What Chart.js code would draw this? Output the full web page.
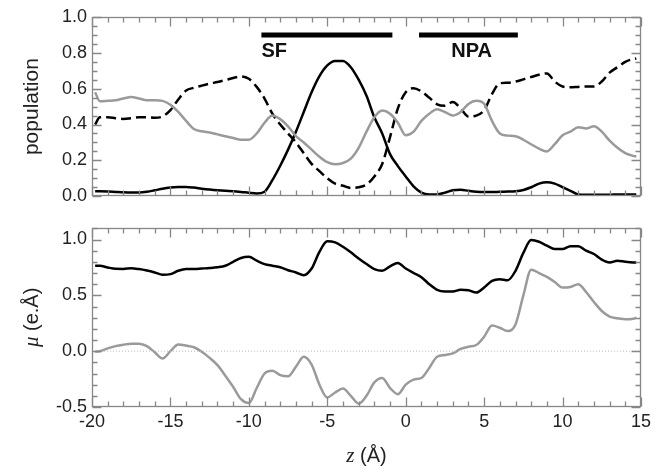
<!DOCTYPE html>
<html>
<head>
<meta charset="utf-8">
<script src="https://cdn.jsdelivr.net/npm/chart.js@4.4.1/dist/chart.umd.min.js"></script>
<style>
  body { margin: 0; background: #fff; }
  #wrap { position: relative; width: 664px; height: 466px; }
  canvas { position: absolute; left: 0; }
</style>
</head>
<body>
<div id="wrap">
  <canvas id="popChart" width="664" height="212" style="top:0"></canvas>
  <canvas id="muChart" width="664" height="254" style="top:212px"></canvas>
</div>
<script>
// z positions (Å) shared by every curve
const zValues = [
  -19.8, -19.5, -19, -18.5, -18, -17.5, -17, -16.5, -16, -15.5,
  -15, -14.5, -14, -13.5, -13, -12.5, -12, -11.5, -11, -10.5,
  -10, -9.5, -9, -8.5, -8, -7.5, -7, -6.5, -6, -5.5,
  -5, -4.5, -4, -3.5, -3, -2.5, -2, -1.5, -1, -0.5,
  0, 0.5, 1, 1.5, 2, 2.5, 3, 3.5, 4, 4.5,
  5, 5.5, 6, 6.5, 7, 7.5, 8, 8.5, 9, 9.5,
  10, 10.5, 11, 11.5, 12, 12.5, 13, 13.5, 14, 14.5,
  14.7
];

// top panel: population
const popBlack = [
  0.027, 0.027, 0.026, 0.024, 0.022, 0.021, 0.021, 0.025, 0.033, 0.042,
  0.048, 0.051, 0.052, 0.048, 0.042, 0.037, 0.033, 0.030, 0.028, 0.024,
  0.019, 0.015, 0.025, 0.09, 0.17, 0.26, 0.36, 0.47, 0.58, 0.67,
  0.73, 0.755, 0.755, 0.72, 0.65, 0.56, 0.44, 0.35, 0.235, 0.168,
  0.11, 0.055, 0.02, 0.01, 0.01, 0.02, 0.033, 0.036, 0.03, 0.025,
  0.023, 0.023, 0.025, 0.026, 0.028, 0.035, 0.05, 0.07, 0.078, 0.07,
  0.05, 0.03, 0.01, 0.008, 0.008, 0.008, 0.008, 0.01, 0.01, 0.01,
  0.01
];
const popDashed = [
  0.40, 0.44, 0.44, 0.435, 0.431, 0.435, 0.44, 0.44, 0.438, 0.445,
  0.48, 0.54, 0.59, 0.605, 0.617, 0.628, 0.637, 0.648, 0.66, 0.668,
  0.655, 0.61, 0.545, 0.46, 0.40, 0.35, 0.30, 0.24, 0.18, 0.14,
  0.10, 0.07, 0.058, 0.046, 0.05, 0.065, 0.11, 0.18, 0.33, 0.49,
  0.58, 0.603, 0.585, 0.55, 0.513, 0.505, 0.525, 0.49, 0.445, 0.45,
  0.48, 0.57, 0.63, 0.633, 0.64, 0.652, 0.665, 0.678, 0.685, 0.64,
  0.612, 0.608, 0.61, 0.612, 0.612, 0.64, 0.69, 0.72, 0.75, 0.765,
  0.768
];
const popGray = [
  0.58, 0.53, 0.532, 0.535, 0.545, 0.553, 0.545, 0.535, 0.535, 0.532,
  0.51, 0.47, 0.42, 0.375, 0.362, 0.355, 0.345, 0.335, 0.325, 0.315,
  0.315, 0.35, 0.41, 0.45, 0.43, 0.39, 0.335, 0.30, 0.26, 0.22,
  0.19, 0.178, 0.185, 0.21, 0.27, 0.36, 0.44, 0.478, 0.46, 0.41,
  0.34, 0.36, 0.42, 0.46, 0.485, 0.47, 0.45, 0.47, 0.515, 0.532,
  0.515, 0.42, 0.35, 0.338, 0.335, 0.315, 0.29, 0.265, 0.25, 0.29,
  0.34, 0.36, 0.385, 0.378, 0.39, 0.36, 0.31, 0.27, 0.24, 0.225,
  0.222
];

// bottom panel: mu (e.Å)
const muBlack = [
  0.765, 0.765, 0.75, 0.738, 0.737, 0.743, 0.735, 0.722, 0.705, 0.685,
  0.69, 0.72, 0.735, 0.735, 0.74, 0.745, 0.752, 0.765, 0.8, 0.835,
  0.845, 0.81, 0.78, 0.765, 0.752, 0.725, 0.705, 0.68, 0.74, 0.89,
  0.985, 0.975, 0.935, 0.885, 0.83, 0.78, 0.735, 0.72, 0.76, 0.79,
  0.74, 0.70, 0.663, 0.6, 0.55, 0.535, 0.535, 0.55, 0.545, 0.525,
  0.57, 0.63, 0.645, 0.635, 0.72, 0.88, 0.995, 0.98, 0.945, 0.915,
  0.915, 0.94, 0.94, 0.9, 0.87, 0.82, 0.795, 0.81, 0.8, 0.795,
  0.795
];
const muGray = [
  -0.005, 0.0, 0.025, 0.045, 0.058, 0.067, 0.066, 0.045, -0.01, -0.065,
  0.0, 0.06, 0.05, 0.035, -0.005, -0.06, -0.125, -0.22, -0.32, -0.43,
  -0.465, -0.33, -0.2, -0.175, -0.215, -0.225, -0.14, -0.05, -0.12, -0.30,
  -0.415, -0.37, -0.335, -0.40, -0.47, -0.40, -0.28, -0.24, -0.33, -0.385,
  -0.30, -0.255, -0.24, -0.15, -0.05, -0.035, -0.02, 0.02, 0.04, 0.055,
  0.13, 0.23, 0.21, 0.18, 0.24, 0.50, 0.73, 0.7, 0.665, 0.62,
  0.57, 0.575, 0.6, 0.53, 0.44, 0.36, 0.31, 0.295, 0.285, 0.29,
  0.3
];

// axis ticks
const zTicks = [-20, -15, -10, -5, 0, 5, 10, 15];
const popTicks = [0, 0.2, 0.4, 0.6, 0.8, 1.0];
const muTicks = [-0.5, 0, 0.5, 1.0];

// marked regions in the top panel
const regionNames = ['SF', 'NPA'];
const regionStart = [-9.2, 0.85];
const regionEnd = [-0.85, 7.15];
const regionLevel = 0.9;
const regionLabelZ = [-9.2, 4.2];

const GRAY = '#9a9a9a';
const FRAME = '#878787';
Chart.defaults.font.family = "'Liberation Sans', Arial, sans-serif";
Chart.defaults.color = '#222';

function pts(arr) {
  return zValues.map((z, i) => ({ x: z, y: arr[i] }));
}

function drawParts(ctx, parts, cx, cy, rot) {
  ctx.save();
  ctx.translate(cx, cy);
  ctx.rotate(rot);
  let w = 0;
  parts.forEach(p => { ctx.font = p.font; w += ctx.measureText(p.text).width; });
  let x = -w / 2;
  ctx.textAlign = 'left';
  ctx.textBaseline = 'middle';
  ctx.fillStyle = '#222';
  parts.forEach(p => {
    ctx.font = p.font;
    ctx.fillText(p.text, x, 0);
    x += ctx.measureText(p.text).width;
  });
  ctx.restore();
}

// frame with inward ticks on all four sides, plus titles
const frameTicks = {
  id: 'frameTicks',
  afterDatasetsDraw(chart, args, o) {
    const { ctx, chartArea: a } = chart;
    const xs = chart.scales.x, ys = chart.scales.y;
    const L = Math.round(a.left) + 0.5, R = Math.round(a.right) - 0.5;
    const T = Math.round(a.top) + 0.5, B = Math.round(a.bottom) - 0.5;
    ctx.save();
    ctx.strokeStyle = FRAME;
    ctx.lineWidth = 1.3;
    ctx.beginPath();
    const nx = Math.round((xs.max - xs.min) / o.xMinor);
    for (let i = 0; i <= nx; i++) {
      const z = xs.min + i * o.xMinor;
      const major = Math.abs(z / o.xMajor - Math.round(z / o.xMajor)) < 1e-6;
      const len = major ? 9 : 5;
      const px = Math.round(xs.getPixelForValue(z)) + 0.5;
      ctx.moveTo(px, T); ctx.lineTo(px, T + len);
      ctx.moveTo(px, B); ctx.lineTo(px, B - len);
    }
    const ny = Math.floor((ys.max - o.yStart) / o.yMinor + 1e-6);
    for (let i = 0; i <= ny; i++) {
      const v = o.yStart + i * o.yMinor;
      const major = Math.abs(v / o.yMajor - Math.round(v / o.yMajor)) < 1e-6;
      const len = major ? 9 : 5;
      const py = Math.round(ys.getPixelForValue(v)) + 0.5;
      ctx.moveTo(L, py); ctx.lineTo(L + len, py);
      ctx.moveTo(R, py); ctx.lineTo(R - len, py);
    }
    ctx.stroke();
    ctx.strokeRect(L, T, R - L, B - T);
    ctx.restore();

    const midY = (a.top + a.bottom) / 2;
    drawParts(ctx, o.yTitle, 32, midY, -Math.PI / 2);
    if (o.xTitle) drawParts(ctx, o.xTitle, (a.left + a.right) / 2, o.xTitleY, 0);
    if (o.regions) {
      ctx.save();
      ctx.fillStyle = '#111';
      ctx.font = "bold 20px 'Liberation Sans', Arial, sans-serif";
      ctx.textBaseline = 'middle';
      regionNames.forEach((name, i) => {
        ctx.textAlign = i === 0 ? 'left' : 'center';
        ctx.fillText(name, xs.getPixelForValue(regionLabelZ[i]), 51);
      });
      ctx.restore();
    }
  }
};

const lineStyle = { pointRadius: 0, borderWidth: 2.5, fill: false, cubicInterpolationMode: 'monotone' };
const tickFont = { size: 18 };

const regionSets = regionNames.map((name, i) => ({
  label: name,
  data: [{ x: regionStart[i], y: regionLevel }, { x: regionEnd[i], y: regionLevel }],
  borderColor: '#000', borderWidth: 5, pointRadius: 0, borderCapStyle: 'butt'
}));

new Chart(document.getElementById('popChart'), {
  type: 'line',
  data: {
    datasets: [
      { ...lineStyle, data: pts(popGray), borderColor: GRAY },
      { ...lineStyle, data: pts(popDashed), borderColor: '#000', borderDash: [10, 5] },
      { ...lineStyle, data: pts(popBlack), borderColor: '#000' },
      ...regionSets
    ]
  },
  options: {
    responsive: false, animation: false, devicePixelRatio: 1,
    layout: { padding: { left: 0, right: 23, top: 17, bottom: 11 } },
    plugins: {
      legend: { display: false }, tooltip: { enabled: false },
      frameTicks: {
        xMinor: 1, xMajor: 5, yStart: 0, yMinor: 0.05, yMajor: 0.2,
        yTitle: [{ text: 'population', font: "21px 'Liberation Sans', Arial, sans-serif" }],
        regions: true
      }
    },
    scales: {
      x: { type: 'linear', min: -20, max: 15, display: false },
      y: {
        min: 0, max: 1,
        grid: { display: false, drawTicks: false }, border: { display: false },
        afterBuildTicks: s => { s.ticks = popTicks.map(v => ({ value: v })); },
        afterFit: s => { s.width = 92; },
        ticks: { font: tickFont, padding: 5, callback: v => v.toFixed(1) }
      }
    }
  },
  plugins: [frameTicks]
});

new Chart(document.getElementById('muChart'), {
  type: 'line',
  data: {
    datasets: [
      { data: [{ x: -20, y: 0 }, { x: 15, y: 0 }], borderColor: '#bbb', borderWidth: 1, borderDash: [1, 2], pointRadius: 0 },
      { ...lineStyle, data: pts(muGray), borderColor: GRAY },
      { ...lineStyle, data: pts(muBlack), borderColor: '#000' }
    ]
  },
  options: {
    responsive: false, animation: false, devicePixelRatio: 1,
    layout: { padding: { left: 0, right: 23, top: 11, bottom: 0 } },
    plugins: {
      legend: { display: false }, tooltip: { enabled: false },
      frameTicks: {
        xMinor: 1, xMajor: 5, yStart: -0.5, yMinor: 0.1, yMajor: 0.5,
        yTitle: [
          { text: 'μ', font: "italic 21px 'Liberation Serif', serif" },
          { text: ' (e.Å)', font: "20px 'Liberation Sans', Arial, sans-serif" }
        ],
        xTitle: [
          { text: 'z', font: "italic 21px 'Liberation Serif', serif" },
          { text: ' (Å)', font: "20px 'Liberation Sans', Arial, sans-serif" }
        ],
        xTitleY: 244
      }
    },
    scales: {
      x: {
        type: 'linear', min: -20, max: 15,
        grid: { display: false, drawTicks: false }, border: { display: false },
        afterBuildTicks: s => { s.ticks = zTicks.map(v => ({ value: v })); },
        afterFit: s => { s.height = 59; },
        ticks: { font: tickFont, padding: 4, maxRotation: 0, autoSkip: false, callback: v => String(v) }
      },
      y: {
        min: -0.5, max: 1.105,
        grid: { display: false, drawTicks: false }, border: { display: false },
        afterBuildTicks: s => { s.ticks = muTicks.map(v => ({ value: v })); },
        afterFit: s => { s.width = 92; },
        ticks: { font: tickFont, padding: 5, callback: v => v.toFixed(1) }
      }
    }
  },
  plugins: [frameTicks]
});
</script>
</body>
</html>
